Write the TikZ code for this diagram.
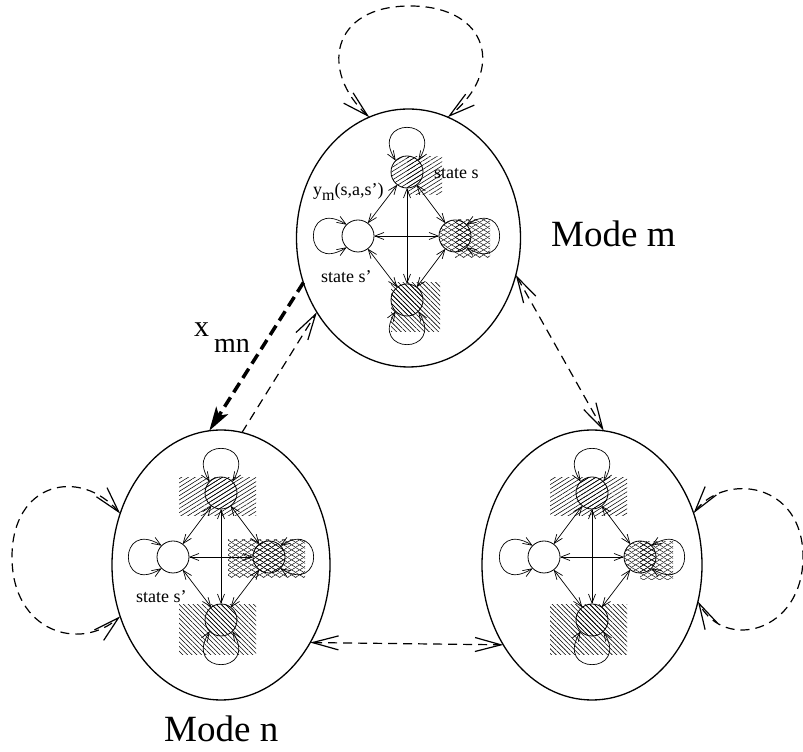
\documentclass[tikz,border=0pt]{standalone}
\usepackage{fontspec}
\setmainfont{Liberation Serif}
\usetikzlibrary{shapes.geometric,arrows.meta,patterns.meta}
\pgfdeclarepattern{
  name=xhatch, type=uncolored,
  bottom left={\pgfpoint{0pt}{0pt}}, top right={\pgfpoint{8pt}{5pt}},
  tile size={\pgfpoint{8pt}{5pt}},
  code={
    \pgfsetlinewidth{0.5pt}
    \pgfpathmoveto{\pgfpoint{-1pt}{-0.625pt}}\pgfpathlineto{\pgfpoint{9pt}{5.625pt}}
    \pgfpathmoveto{\pgfpoint{-1pt}{5.625pt}}\pgfpathlineto{\pgfpoint{9pt}{-0.625pt}}
    \pgfusepath{stroke}
  }
}
\tikzset{
  modebox/.style={ellipse, draw, line width=1.3pt, inner sep=0pt, outer sep=0pt},
  st/.style={circle, draw, line width=0.8pt, minimum size=32pt, inner sep=0pt, outer sep=0pt},
  hA/.style={pattern={Lines[angle=32,distance=3.6pt,line width=0.55pt]}},
  hB/.style={pattern={Lines[angle=135,distance=3.3pt,line width=0.55pt]}},
  hX/.style={pattern=xhatch},
  ia/.style={line width=0.7pt, {Straight Barb[length=9pt,width=7pt]}-{Straight Barb[length=9pt,width=7pt]}},
  bigtip/.style={line width=1.2pt, dash pattern=on 9pt off 6pt},
  barb/.tip={Straight Barb[length=26pt,width=14pt,line width=1.2pt]},
  thickdash/.style={line width=3.5pt, dash pattern=on 11pt off 6pt, -{Stealth[length=24pt,width=14pt,inset=6pt]}},
  small/.style={anchor=base west, font=\fontsize{18}{20}\selectfont, inner sep=0pt},
  big/.style={anchor=base west, font=\fontsize{37}{40}\selectfont, inner sep=0pt},
}
\newcommand\stloop[2]{%
  \pgfmathtruncatemacro\la{mod(#2+45+360,360)}%
  \pgfmathtruncatemacro\lb{mod(#2-45+360,360)}%
  \pgfmathtruncatemacro\ca{#2+32}%
  \pgfmathtruncatemacro\cb{#2-32}%
  \draw[ia] (#1.\la) .. controls +(\ca:52) and +(\cb:52) .. (#1.\lb);}
\begin{document}
\begin{tikzpicture}[x=1pt,y=1pt]
\useasboundingbox (0,0) rectangle (803,752);
% hatch regions
\path[hA] (407,557) rectangle (442,595);
\path[hX] (455,494) rectangle (490,532);
\path[hB] (391,420) rectangle (440,469);
\path[hA] (179,236) rectangle (256,274);
\path[hX] (228,174) rectangle (305,212);
\path[hB] (179,97) rectangle (256,147);
\path[hA] (550,236) rectangle (627,274);
\path[hX] (640,172) rectangle (673,210);
\path[hB] (550,97) rectangle (627,147);
% states
\node[st,hA] (mt) at (407,580) {};
\node[st] (ml) at (358,516) {};
\node[st,hX] (mr) at (455,516) {};
\node[st,hB] (mb) at (407,452) {};
\node[st,hA] (nt) at (221,259) {};
\node[st] (nl) at (173,195) {};
\node[st,hX] (nr) at (269,195) {};
\node[st,hB] (nb) at (221,132) {};
\node[st,hA] (ot) at (592,259) {};
\node[st] (ol) at (544,195) {};
\node[st,hX] (or) at (640,195) {};
\node[st,hB] (ob) at (592,132) {};
% modes
\node[modebox, minimum width=224pt, minimum height=258pt] (m) at (408.5,514) {};
\node[modebox, minimum width=218pt, minimum height=270pt] (n) at (221,187) {};
\node[modebox, minimum width=220pt, minimum height=270pt] (o) at (592,187) {};
% inner transitions
\foreach \p in {m,n,o}{
  \draw[ia] (\p t) -- (\p l);
  \draw[ia] (\p t) -- (\p r);
  \draw[ia] (\p l) -- (\p b);
  \draw[ia] (\p r) -- (\p b);
  \draw[ia] (\p t) -- (\p b);
  \draw[ia] (\p l) -- (\p r);
  \stloop{\p t}{90}
  \stloop{\p l}{180}
  \stloop{\p r}{0}
  \stloop{\p b}{270}
}
% mode-level transitions
\draw[bigtip, barb-barb] (m.108) .. controls (320,680) and (330,746) .. (410,746)
   .. controls (490,746) and (505,680) .. (m.72);
\draw[bigtip, barb-barb] (n.153) .. controls (80,285) and (12,270) .. (12,195)
   .. controls (12,120) and (80,100) .. (n.207);
\draw[bigtip, barb-barb] (o.27) .. controls (725,280) and (803,270) .. (803,195)
   .. controls (803,120) and (725,100) .. (o.341);
\draw[bigtip, barb-barb] (m.341) -- (o.85);
\draw[bigtip, barb-barb] (n.319) -- (o.222);
\draw[bigtip, -barb] (n.81) -- (m.219);
\draw[thickdash] (m.203) -- (n.95);
% labels
\node[big] (lm) at (551,505) {Mode m};
\node[big] (ln) at (164,10) {Mode n};
\node[small] (ss) at (434,573) {state s};
\node[small] (ym) at (313,556) {y\raisebox{-5pt}{\fontsize{16}{16}\selectfont m}(s,a,s')};
\node[small] (sp1) at (321,469) {state s'};
\node[small] (sp2) at (136,149) {state s'};
\node[anchor=base west, inner sep=0pt, font=\fontsize{30}{30}\selectfont] (xl) at (194,415) {x};
\node[anchor=base west, inner sep=0pt, font=\fontsize{28}{28}\selectfont] (xs) at (214,399) {mn};
\end{tikzpicture}
\end{document}
